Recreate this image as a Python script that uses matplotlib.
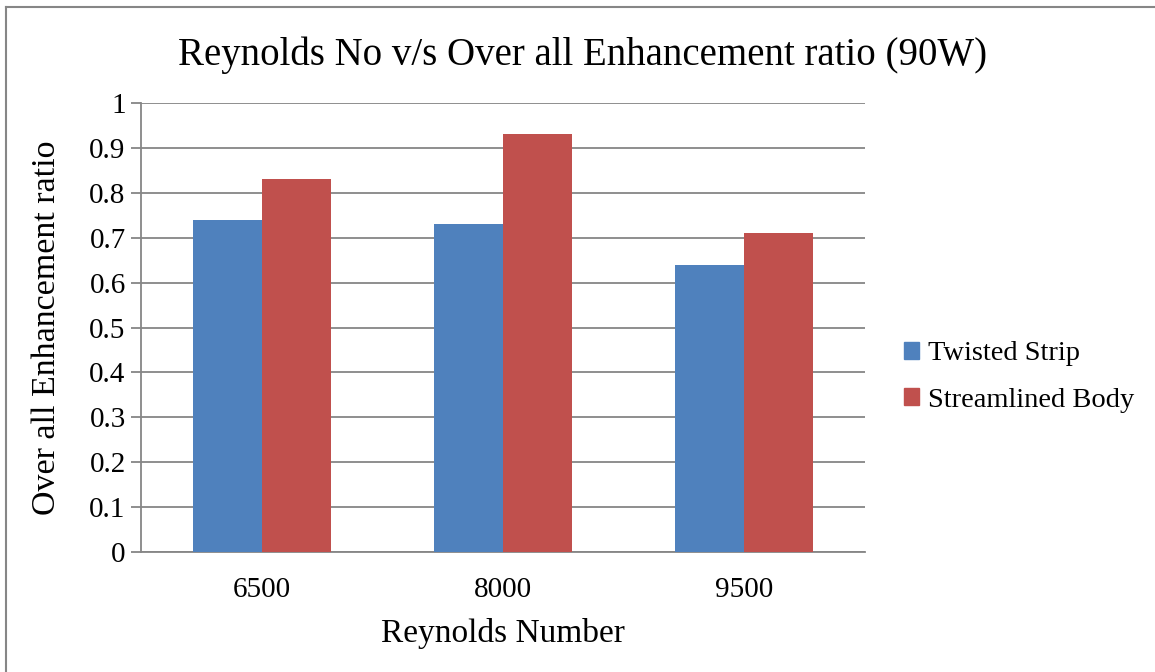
import matplotlib.pyplot as plt
from matplotlib.patches import Patch
from matplotlib.lines import Line2D
import numpy as np

plt.rcParams['font.family'] = ['Liberation Serif', 'DejaVu Serif']

reynolds = ['6500', '8000', '9500']
twisted_strip = [0.74, 0.73, 0.64]
streamlined_body = [0.83, 0.93, 0.71]

blue = '#4F81BD'
red = '#C0504D'
grid_grey = '#868686'

fig = plt.figure(figsize=(11.55, 6.72), dpi=100)
ax = fig.add_axes([141 / 1155, 1 - 552 / 672, 724 / 1155, 449 / 672])

x = np.arange(len(reynolds))
w = 0.2857
ax.bar(x - w / 2, twisted_strip, w, color=blue, zorder=3)
ax.bar(x + w / 2, streamlined_body, w, color=red, zorder=3)

ax.set_xlim(-0.5, len(reynolds) - 0.5)
ax.set_ylim(0, 1)
ax.set_yticks(np.arange(0, 1.01, 0.1))
ax.set_yticklabels(['0'] + ['%.1f' % v for v in np.arange(0.1, 0.95, 0.1)] + ['1'])
ax.set_xticks(x)
ax.set_xticklabels(reynolds)
ax.yaxis.grid(True, color=grid_grey, linewidth=1.3, zorder=0)

for side in ['top', 'right']:
    ax.spines[side].set_visible(False)
for side in ['left', 'bottom']:
    ax.spines[side].set_color(grid_grey)
    ax.spines[side].set_linewidth(1.3)
ax.tick_params(axis='y', length=7, width=1.3, color=grid_grey, labelsize=21, pad=4)
ax.tick_params(axis='x', length=0, labelsize=21, pad=18)

ax.set_xlabel('Reynolds Number', fontsize=24, labelpad=11)
ax.set_ylabel('Over all Enhancement ratio', fontsize=24.5, labelpad=20)
fig.text(0.504, 0.918, 'Reynolds No v/s Over all Enhancement ratio (90W)',
         fontsize=28, ha='center', va='center')

handles = [Patch(color=blue, label='Twisted Strip'),
           Patch(color=red, label='Streamlined Body')]
fig.legend(handles=handles, loc='center left', bbox_to_anchor=(878 / 1155, 1 - 377 / 672),
           frameon=False, fontsize=20.5, handlelength=0.55, handleheight=0.55,
           handletextpad=0.3, labelspacing=0.75)

# grey frame edges along the top and left of the chart
fig.add_artist(Line2D([6 / 1155, 1], [1 - 7 / 672, 1 - 7 / 672],
                      transform=fig.transFigure, color=grid_grey, linewidth=1.5))
fig.add_artist(Line2D([6 / 1155, 6 / 1155], [0, 1 - 7 / 672],
                      transform=fig.transFigure, color=grid_grey, linewidth=1.5))

fig.savefig('out.png', dpi=100)
